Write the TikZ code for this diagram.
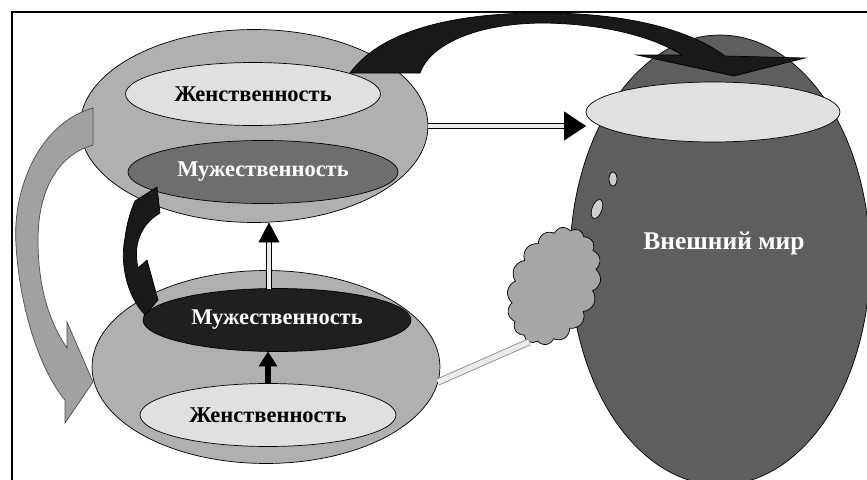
\documentclass[tikz,border=0pt]{standalone}
\usepackage{fontspec}
\setmainfont{Liberation Serif}
\usetikzlibrary{shapes,shapes.geometric,shapes.symbols,arrows.meta,calc,positioning}

\begin{document}
\begin{tikzpicture}[x=0.02cm,y=-0.02cm,
      every node/.style={inner sep=0pt, outer sep=0pt, font=\fontsize{12.8}{15}\selectfont\bfseries},
      ring/.style={ellipse, draw, fill=black!31, minimum width=6.96cm, minimum height=3.86cm},
      fem/.style={ellipse, draw, fill=black!12, minimum width=5.1cm, minimum height=1.26cm},
      masc/.style={ellipse, draw, text=white, minimum width=5.36cm, minimum height=1.26cm},
      shaft/.style={draw=black, double=black!8, line width=0.5pt, double distance=2.6pt}]
      \clip (0,0) rectangle (867,480);
      \fill[white] (0,0) rectangle (867,480);
      \draw[line width=1.6pt] (867,12) -- (12,12) -- (12,480);
      \node[ellipse, draw, fill=black!63, minimum width=6cm, minimum height=9cm] (g) at (720,260) {};
      \node[ellipse, draw, fill=black!12, minimum width=5.08cm, minimum height=1.2cm] (h) at (713,112) {};
      \node[white, font=\fontsize{14.5}{16}\selectfont\bfseries] (w) at (724,243) {Внешний мир};
      \node[ellipse, draw, fill=black!20, minimum width=0.16cm, minimum height=0.28cm] (j) at (613,179) {};
      \node[ellipse, draw, fill=black!20, minimum width=0.2cm, minimum height=0.4cm, rotate=-20] (k) at (597,209) {};
      \node[cloud, cloud puffs=16, cloud puff arc=120, draw, fill=black!35, minimum width=2.45cm, minimum height=1.75cm, rotate=66] (i) at (554,286) {};
      \node[ring] (a) at (254,126) {};
      \node[fem] (b) at (253,94) {Женственность};
      \node[masc, fill=black!57, minimum width=5.4cm] (c) at (263,172) {Мужественность};
      \node[ring] (d) at (266,367) {};
      \node[masc, fill=black!88] (e) at (277,320) {Мужественность};
      \node[fem, minimum width=5.12cm] (f) at (268,415) {Женственность};
      \fill[black!90, draw=black] (350,73) .. controls (385,25) and (470,12) .. (550,13)
         .. controls (630,14) and (690,30) .. (725,56) -- (805,58) -- (734,76) -- (637,55) -- (682,55)
         .. controls (650,35) and (600,24) .. (545,23) .. controls (475,23) and (430,45) .. (420,73) -- cycle;
      \fill[black!37, draw=black!70] (93,108) .. controls (42,122) and (12,185) .. (16,245)
         .. controls (20,310) and (40,370) .. (65,400) -- (65,423) -- (93,382) -- (67,322) -- (67,348)
         .. controls (48,320) and (38,285) .. (38,240) .. controls (38,190) and (58,155) .. (93,145) -- cycle;
      \fill[black!90, draw=black] (135,201) -- (157,187) -- (160,213) .. controls (140,225) and (133,245) .. (138,268)
         -- (147,260) -- (158,300) -- (145,315) .. controls (126,295) and (120,262) .. (125,238)
         .. controls (127,222) and (131,210) .. (135,201) -- cycle;
      \draw[shaft, -{Triangle[length=0.44cm, width=0.58cm]}] (a.east) -- (h.west |- a.east);
      \draw[shaft, -{Triangle[length=0.4cm, width=0.42cm]}] ($(e.north)+(-8,0)$) -- ($(e.north |- a.south)+(-8,0)$);
      \draw[line width=3pt, -{Triangle[length=0.3cm, width=0.36cm]}] (f.north) -- (f.north |- e.south);
      \draw[draw=black!45, double=black!8, line width=0.5pt, double distance=3pt] (d.-5) -- (i.west);
\end{tikzpicture}
\end{document}
